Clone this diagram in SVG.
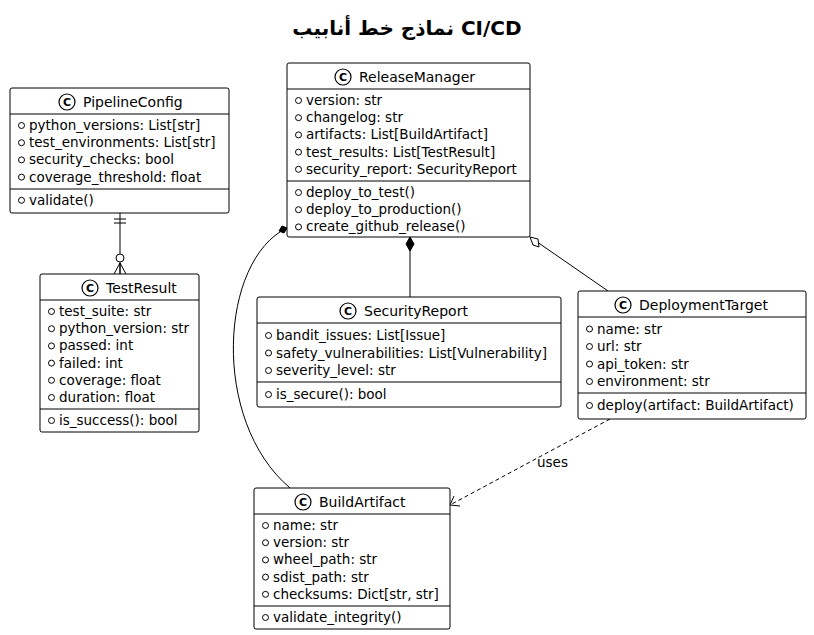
<svg xmlns="http://www.w3.org/2000/svg" width="814" height="635" viewBox="0 0 814 635">
<style>
text{font-family:"DejaVu Sans",sans-serif;font-size:13.5px;fill:#000}
.t{font-size:20px;font-weight:bold}
.n{font-size:14px}
.c{font-size:11px;font-weight:bold}
rect{fill:#fff;stroke:#000;stroke-width:1}
line,path{stroke:#000;stroke-width:1;fill:none}
.v{fill:none;stroke:#000;stroke-width:1}
.i{fill:#fff;stroke:#000;stroke-width:1.2}
</style>
<rect x="0" y="0" width="814" height="635" style="fill:#fff;stroke:none"/>
<text class="t" x="407" y="35" text-anchor="middle">نماذج خط أنابيب CI/CD</text>
<g id="connectors">
<line x1="120" y1="213" x2="120" y2="274"/>
<line x1="114" y1="219" x2="126" y2="219"/><line x1="114" y1="223" x2="126" y2="223"/>
<circle cx="120" cy="258" r="4" class="v" style="fill:#fff"/>
<path d="M114 274 L120 263 L126 274 M120 263 V274"/>
<path d="M287 228 C220 260 210 420 290 488"/>
<path d="M287 228 L282 226 L279 231 L284 233 Z" style="fill:#000"/>
<line x1="410" y1="237" x2="410" y2="297"/>
<path d="M410 237 L414 244 L410 251 L406 244 Z" style="fill:#000"/>
<line x1="530" y1="237" x2="608" y2="291"/>
<path d="M530 237 L538 239 L539 247 L533 245 Z" style="fill:#fff"/>
<path d="M610 419 L450 505" style="stroke-dasharray:4,3"/>
<path d="M454 496 L450 505 L460 506"/>
<text x="537" y="467">uses</text>
</g>
<g id="PipelineConfig">
<rect x="10" y="88" width="219" height="125" rx="2"/>
<circle cx="67" cy="102" r="8" class="i"/><text class="c" x="67" y="106" text-anchor="middle">C</text>
<text class="n" x="83" y="107">PipelineConfig</text>
<line x1="10" y1="114" x2="229" y2="114"/>
<circle cx="21.5" cy="125.5" r="3" class="v"/><text x="29" y="130">python_versions: List[str]</text>
<circle cx="21.5" cy="142.7" r="3" class="v"/><text x="29" y="147.2">test_environments: List[str]</text>
<circle cx="21.5" cy="159.9" r="3" class="v"/><text x="29" y="164.4">security_checks: bool</text>
<circle cx="21.5" cy="177.1" r="3" class="v"/><text x="29" y="181.6">coverage_threshold: float</text>
<line x1="10" y1="189" x2="229" y2="189"/>
<circle cx="21.5" cy="200.3" r="3" class="v"/><text x="29" y="204.8">validate()</text>
</g>
<g id="TestResult">
<rect x="40" y="274" width="159" height="158" rx="2"/>
<circle cx="90" cy="288" r="8" class="i"/><text class="c" x="90" y="292" text-anchor="middle">C</text>
<text class="n" x="106" y="293">TestResult</text>
<line x1="40" y1="300" x2="199" y2="300"/>
<circle cx="51.5" cy="311.5" r="3" class="v"/><text x="59" y="316">test_suite: str</text>
<circle cx="51.5" cy="328.7" r="3" class="v"/><text x="59" y="333.2">python_version: str</text>
<circle cx="51.5" cy="345.9" r="3" class="v"/><text x="59" y="350.4">passed: int</text>
<circle cx="51.5" cy="363.1" r="3" class="v"/><text x="59" y="367.6">failed: int</text>
<circle cx="51.5" cy="380.3" r="3" class="v"/><text x="59" y="384.8">coverage: float</text>
<circle cx="51.5" cy="397.5" r="3" class="v"/><text x="59" y="402">duration: float</text>
<line x1="40" y1="409" x2="199" y2="409"/>
<circle cx="51.5" cy="420.5" r="3" class="v"/><text x="59" y="425">is_success(): bool</text>
</g>
<g id="ReleaseManager">
<rect x="287" y="63" width="243" height="174" rx="2"/>
<circle cx="343" cy="77" r="8" class="i"/><text class="c" x="343" y="81" text-anchor="middle">C</text>
<text class="n" x="359" y="82">ReleaseManager</text>
<line x1="287" y1="89" x2="530" y2="89"/>
<circle cx="298.5" cy="100.5" r="3" class="v"/><text x="306" y="105">version: str</text>
<circle cx="298.5" cy="117.7" r="3" class="v"/><text x="306" y="122.2">changelog: str</text>
<circle cx="298.5" cy="134.9" r="3" class="v"/><text x="306" y="139.4">artifacts: List[BuildArtifact]</text>
<circle cx="298.5" cy="152.1" r="3" class="v"/><text x="306" y="156.6">test_results: List[TestResult]</text>
<circle cx="298.5" cy="169.3" r="3" class="v"/><text x="306" y="173.8">security_report: SecurityReport</text>
<line x1="287" y1="181" x2="530" y2="181"/>
<circle cx="298.5" cy="192.5" r="3" class="v"/><text x="306" y="197">deploy_to_test()</text>
<circle cx="298.5" cy="209.7" r="3" class="v"/><text x="306" y="214.2">deploy_to_production()</text>
<circle cx="298.5" cy="226.9" r="3" class="v"/><text x="306" y="231.4">create_github_release()</text>
</g>
<g id="SecurityReport">
<rect x="257" y="297" width="304" height="110" rx="2"/>
<circle cx="348" cy="311" r="8" class="i"/><text class="c" x="348" y="315" text-anchor="middle">C</text>
<text class="n" x="364" y="316">SecurityReport</text>
<line x1="257" y1="323" x2="561" y2="323"/>
<circle cx="268.5" cy="335.5" r="3" class="v"/><text x="276" y="340">bandit_issues: List[Issue]</text>
<circle cx="268.5" cy="353" r="3" class="v"/><text x="276" y="357.5">safety_vulnerabilities: List[Vulnerability]</text>
<circle cx="268.5" cy="370.5" r="3" class="v"/><text x="276" y="375">severity_level: str</text>
<line x1="257" y1="382" x2="561" y2="382"/>
<circle cx="268.5" cy="394.5" r="3" class="v"/><text x="276" y="399">is_secure(): bool</text>
</g>
<g id="DeploymentTarget">
<rect x="578" y="291" width="228" height="128" rx="2"/>
<circle cx="623" cy="305" r="8" class="i"/><text class="c" x="623" y="309" text-anchor="middle">C</text>
<text class="n" x="639" y="310">DeploymentTarget</text>
<line x1="578" y1="317" x2="806" y2="317"/>
<circle cx="589.5" cy="329" r="3" class="v"/><text x="597" y="333.5">name: str</text>
<circle cx="589.5" cy="346.5" r="3" class="v"/><text x="597" y="351">url: str</text>
<circle cx="589.5" cy="364" r="3" class="v"/><text x="597" y="368.5">api_token: str</text>
<circle cx="589.5" cy="381.5" r="3" class="v"/><text x="597" y="386">environment: str</text>
<line x1="578" y1="393" x2="806" y2="393"/>
<circle cx="589.5" cy="405.5" r="3" class="v"/><text x="597" y="410">deploy(artifact: BuildArtifact)</text>
</g>
<g id="BuildArtifact">
<rect x="254" y="488" width="196" height="141" rx="2"/>
<circle cx="303" cy="502" r="8" class="i"/><text class="c" x="303" y="506" text-anchor="middle">C</text>
<text class="n" x="319" y="507">BuildArtifact</text>
<line x1="254" y1="514" x2="450" y2="514"/>
<circle cx="265.5" cy="525.5" r="3" class="v"/><text x="273" y="530">name: str</text>
<circle cx="265.5" cy="542.7" r="3" class="v"/><text x="273" y="547.2">version: str</text>
<circle cx="265.5" cy="559.9" r="3" class="v"/><text x="273" y="564.4">wheel_path: str</text>
<circle cx="265.5" cy="577.1" r="3" class="v"/><text x="273" y="581.6">sdist_path: str</text>
<circle cx="265.5" cy="594.3" r="3" class="v"/><text x="273" y="598.8">checksums: Dict[str, str]</text>
<line x1="254" y1="606" x2="450" y2="606"/>
<circle cx="265.5" cy="617.5" r="3" class="v"/><text x="273" y="622">validate_integrity()</text>
</g>
</svg>
